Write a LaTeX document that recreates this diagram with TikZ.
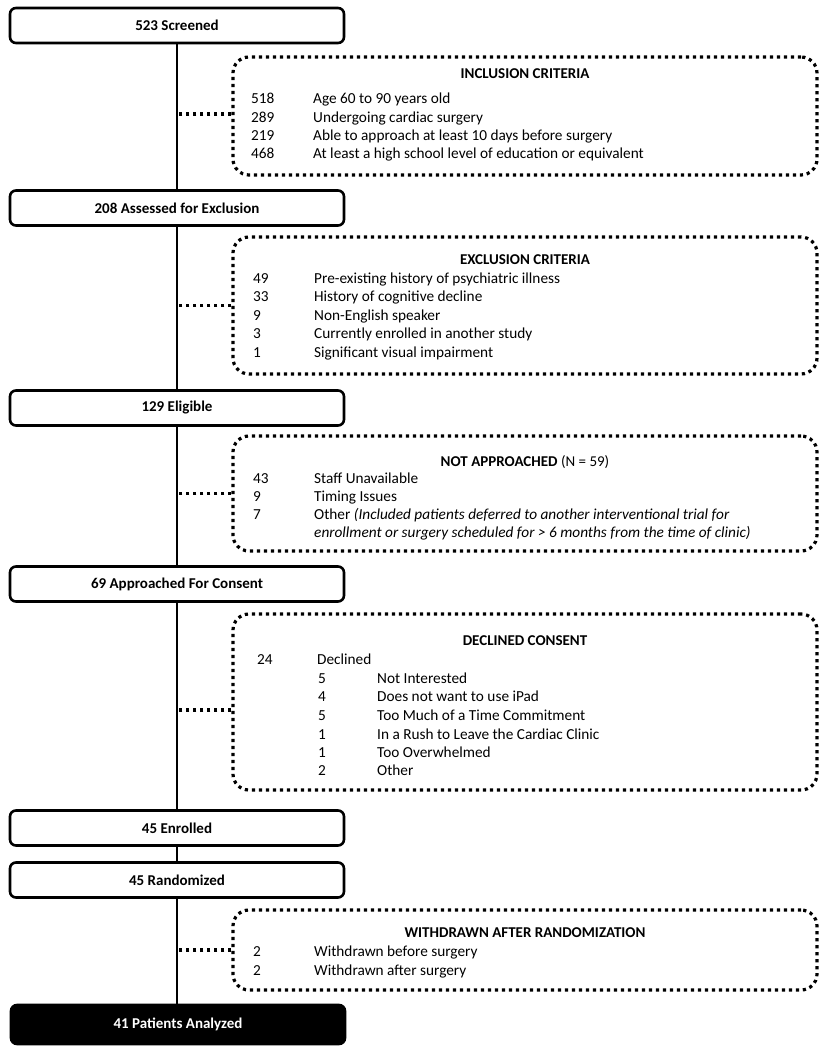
\documentclass[tikz,border=0pt]{standalone}
\usepackage{fontspec}
\setmainfont{Carlito}
\begin{document}
\begin{tikzpicture}[x=1pt,y=-1pt,
  every node/.style={font=\fontsize{15.3}{18}\selectfont},
  mainbox/.style={draw, line width=2.6pt, rounded corners=6pt, minimum width=334pt, minimum height=35pt, inner sep=0pt, font=\fontsize{15}{18}\selectfont\bfseries},
  endbox/.style={mainbox, fill=black, text=white, minimum height=39pt},
  dotbox/.style={draw, line width=3.2pt, dash pattern=on 3.2pt off 3.8pt, rounded corners=16pt, minimum width=584pt, inner sep=0pt},
  dotline/.style={line width=3.2pt, dash pattern=on 3.2pt off 3.8pt},
  mainline/.style={line width=2.8pt},
  ttl/.style={anchor=base, inner sep=0pt, font=\fontsize{15}{18}\selectfont\bfseries},
  row/.style={anchor=base west, inner sep=0pt}
]
\useasboundingbox (0,0) rectangle (826,1050);

% main boxes
\node[mainbox] (scr) at (177,25.5) {523 Screened};
\node[mainbox] (ass) at (177,208) {208 Assessed for Exclusion};
\node[mainbox] (eli) at (177,408) {129 Eligible};
\node[mainbox] (app) at (177,584) {69 Approached For Consent};
\node[mainbox] (enr) at (177,828) {45 Enrolled};
\node[mainbox] (ran) at (177,880) {45 Randomized};
\node[endbox]  (ana) at (178,1024.5) {41 Patients Analyzed};

% vertical spine
\draw[mainline] (scr.south) -- (ass.north);
\draw[mainline] (ass.south) -- (eli.north);
\draw[mainline] (eli.south) -- (app.north);
\draw[mainline] (app.south) -- (enr.north);
\draw[mainline] (enr.south) -- (ran.north);
\draw[mainline] (ran.south) -- (ana.north -| ran.south);

% dotted boxes
\node[dotbox, minimum height=118pt] (inc) at (525,116) {};
\node[dotbox, minimum height=137pt] (exc) at (525,305.5) {};
\node[dotbox, minimum height=115pt] (nap) at (525,493.5) {};
\node[dotbox, minimum height=176pt] (dec) at (525,702) {};
\node[dotbox, minimum height=80pt]  (wdr) at (525,950) {};

% dotted connectors
\draw[dotline] ([yshift=2pt]inc.west) -- ([yshift=2pt]inc.west -| scr.south);
\draw[dotline] (exc.west) -- (exc.west -| ass.south);
\draw[dotline] (nap.west) -- (nap.west -| eli.south);
\draw[dotline] ([yshift=-8pt]dec.west) -- ([yshift=-8pt]dec.west -| app.south);
\draw[dotline] (wdr.west) -- (wdr.west -| ran.south);

% inclusion
\node[ttl] (incT) at (525,78) {INCLUSION CRITERIA};
\node[row] (i1n) at (251,103) {518};
\node[row] (i1t) at (313,103) {Age 60 to 90 years old};
\node[row] (i2n) at (251,122) {289};
\node[row] (i2t) at (313,122) {Undergoing cardiac surgery};
\node[row] (i3n) at (251,140) {219};
\node[row] (i3t) at (313,140) {Able to approach at least 10 days before surgery};
\node[row] (i4n) at (251,158) {468};
\node[row] (i4t) at (313,158) {At least a high school level of education or equivalent};

% exclusion
\node[ttl] (excT) at (525,264) {EXCLUSION CRITERIA};
\node[row] (e1n) at (253,283) {49};
\node[row] (e1t) at (314,283) {Pre-existing history of psychiatric illness};
\node[row] (e2n) at (253,301) {33};
\node[row] (e2t) at (314,301) {History of cognitive decline};
\node[row] (e3n) at (253,320) {9};
\node[row] (e3t) at (314,320) {Non-English speaker};
\node[row] (e4n) at (253,338) {3};
\node[row] (e4t) at (314,338) {Currently enrolled in another study};
\node[row] (e5n) at (253,357) {1};
\node[row] (e5t) at (314,357) {Significant visual impairment};

% not approached
\node[ttl] (napT) at (525,466) {NOT APPROACHED \mdseries(N = 59)};
\node[row] (n1n) at (253,483) {43};
\node[row] (n1t) at (314,483) {Staff Unavailable};
\node[row] (n2n) at (253,501) {9};
\node[row] (n2t) at (314,501) {Timing Issues};
\node[row] (n3n) at (253,519) {7};
\node[row] (n3t) at (314,519) {Other \itshape(Included patients deferred to another interventional trial for};
\node[row] (n3u) at (314,537) {\itshape enrollment or surgery scheduled for > 6 months from the time of clinic)};

% declined
\node[ttl] (decT) at (525,645) {DECLINED CONSENT};
\node[row] (d0n) at (257,664) {24};
\node[row] (d0t) at (317,664) {Declined};
\node[row] (d1n) at (318,683) {5};
\node[row] (d1t) at (377,683) {Not Interested};
\node[row] (d2n) at (318,701) {4};
\node[row] (d2t) at (377,701) {Does not want to use iPad};
\node[row] (d3n) at (318,720) {5};
\node[row] (d3t) at (377,720) {Too Much of a Time Commitment};
\node[row] (d4n) at (318,739) {1};
\node[row] (d4t) at (377,739) {In a Rush to Leave the Cardiac Clinic};
\node[row] (d5n) at (318,757) {1};
\node[row] (d5t) at (377,757) {Too Overwhelmed};
\node[row] (d6n) at (318,775) {2};
\node[row] (d6t) at (377,775) {Other};

% withdrawn
\node[ttl] (wdrT) at (525,937) {WITHDRAWN AFTER RANDOMIZATION};
\node[row] (w1n) at (253,956) {2};
\node[row] (w1t) at (314,956) {Withdrawn before surgery};
\node[row] (w2n) at (253,975) {2};
\node[row] (w2t) at (314,975) {Withdrawn after surgery};
\end{tikzpicture}
\end{document}
